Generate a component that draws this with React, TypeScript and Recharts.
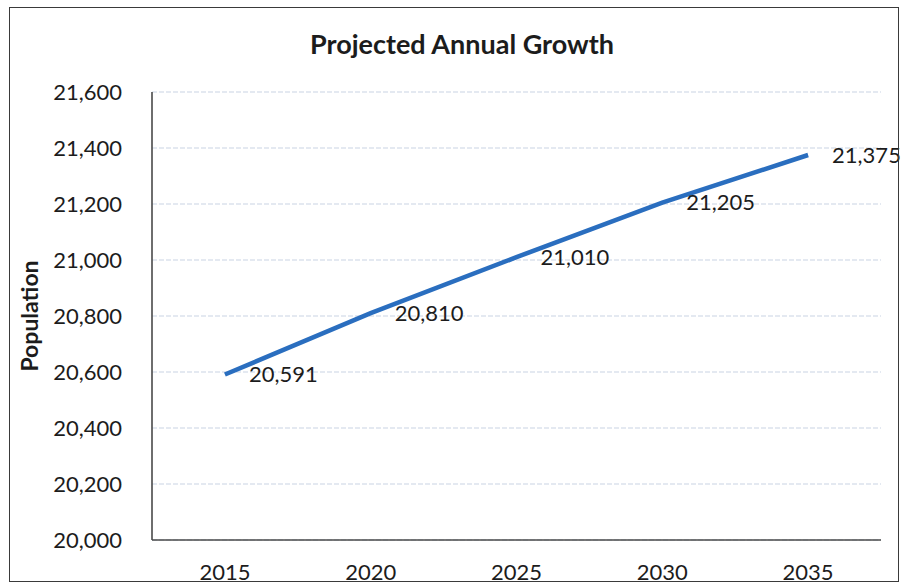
import React from 'react';
import { LineChart, Line, XAxis, YAxis, CartesianGrid, LabelList, Customized } from 'recharts';

const years = [2015, 2020, 2025, 2030, 2035];
const population = [20591, 20810, 21010, 21205, 21375];
const yTicks = [20000, 20200, 20400, 20600, 20800, 21000, 21200, 21400, 21600];
const xTicks = [2015, 2020, 2025, 2030, 2035];
const title = 'Projected Annual Growth';
const yTitle = 'Population';

const data = years.map((year, i) => ({ year, population: population[i] }));

const FONT = 'Lato, "Open Sans", sans-serif';
const TEXT = '#1c1c1c';
const fmt = (v: number) => v.toLocaleString('en-US');

export default function App() {
  return (
    <div style={{ position: 'absolute', left: 0, top: 0, width: 902, height: 584, background: '#fff' }}>
      <LineChart
        width={902}
        height={584}
        data={data}
        margin={{ top: 92, right: 21, bottom: 14, left: 12 }}
        style={{ fontFamily: FONT }}
      >
        <CartesianGrid vertical={false} stroke="#c9d3e3" strokeDasharray="5 2" />
        <XAxis
          dataKey="year"
          type="number"
          domain={[2012.5, 2037.5]}
          allowDataOverflow={true}
          ticks={xTicks}
          height={30}
          tickSize={0}
          tickMargin={24}
          axisLine={{ stroke: '#4a4a4a', strokeWidth: 1.6 }}
          tick={{ fill: TEXT, fontSize: 22, fontFamily: FONT }}
        />
        <YAxis
          type="number"
          domain={[20000, 21600]}
          allowDataOverflow={true}
          ticks={yTicks}
          width={140}
          tickSize={0}
          tickMargin={30}
          tickFormatter={fmt}
          axisLine={{ stroke: '#4a4a4a', strokeWidth: 1.6 }}
          tick={{ fill: TEXT, fontSize: 22, fontFamily: FONT }}
          label={{
            content: () => (
              <text
                x={38}
                y={316}
                transform="rotate(-90 38 316)"
                textAnchor="middle"
                fill={TEXT}
                fontSize={23}
                fontWeight={700}
                fontFamily={FONT}
              >
                {yTitle}
              </text>
            ),
          }}
        />
        <Line
          type="linear"
          dataKey="population"
          stroke="#2a6ebf"
          strokeWidth={4.5}
          dot={false}
          isAnimationActive={false}
        >
          <LabelList
            dataKey="population"
            position="right"
            offset={24}
            formatter={(v: any) => fmt(Number(v))}
            style={{ fill: TEXT, fontSize: 22, fontFamily: FONT }}
          />
        </Line>
        <Customized
          component={() => (
            <text
              x={462}
              y={54}
              textAnchor="middle"
              fill={TEXT}
              fontSize={27}
              fontWeight={700}
              fontFamily={FONT}
            >
              {title}
            </text>
          )}
        />
      </LineChart>
      <div
        style={{
          position: 'absolute',
          left: 9,
          top: 7,
          width: 890,
          height: 575,
          border: '1.5px solid #3a3a3a',
          boxSizing: 'border-box',
          pointerEvents: 'none',
        }}
      />
    </div>
  );
}
